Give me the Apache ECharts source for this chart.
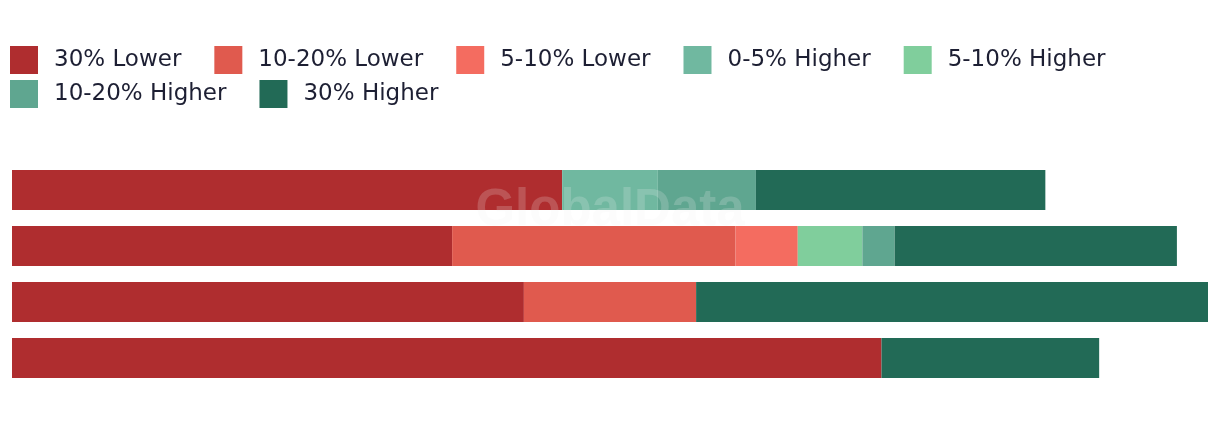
<!DOCTYPE html>
<html>
<head>
<meta charset="utf-8">
<script src="https://cdn.jsdelivr.net/npm/echarts@6/dist/echarts.min.js"></script>
<style>
html,body{margin:0;padding:0;background:#fff;}
#chart{width:1220px;height:422px;}
</style>
</head>
<body>
<div id="chart"></div>
<script>
var categories = ['Row 1', 'Row 2', 'Row 3', 'Row 4'];
var seriesNames = ['30% Lower', '10-20% Lower', '5-10% Lower', '0-5% Higher', '5-10% Higher', '10-20% Higher', '30% Higher'];
var lower30 = [46.0, 36.8, 42.8, 72.7];
var lower1020 = [0, 23.7, 14.4, 0];
var lower510 = [0, 5.2, 0, 0];
var higher05 = [8.0, 0, 0, 0];
var higher510 = [0, 5.4, 0, 0];
var higher1020 = [8.2, 2.7, 0, 0];
var higher30 = [24.2, 23.6, 42.8, 18.2];

var values = [lower30, lower1020, lower510, higher05, higher510, higher1020, higher30];
var colors = ['#AF2D2F', '#E05A4E', '#F46C60', '#70B8A0', '#80CE9C', '#5FA690', '#226A56'];

var chart = echarts.init(document.getElementById('chart'));
var legendBase = {
  orient: 'horizontal',
  left: 10,
  padding: 0,
  itemWidth: 28,
  itemHeight: 28,
  itemGap: 33,
  icon: 'rect',
  selectedMode: false,
  width: 1200,
  textStyle: {
    fontFamily: 'DejaVu Sans',
    fontSize: 23,
    color: '#1d1f33',
    padding: [0, 0, 0, 11]
  }
};
var option = {
  animation: false,
  color: colors,
  legend: [
    Object.assign({}, legendBase, { top: 46, data: seriesNames.slice(0, 5) }),
    Object.assign({}, legendBase, { top: 80, data: seriesNames.slice(5) })
  ],
  grid: { left: 12, right: 12, top: 162, bottom: 36, containLabel: false },
  xAxis: { type: 'value', min: 0, max: 100, show: false },
  yAxis: { type: 'category', data: categories, inverse: true, show: false },
  graphic: [{
    type: 'text',
    left: 'center',
    top: 185,
    z: 100,
    style: {
      text: 'GlobalData',
      fontFamily: 'Liberation Sans',
      fontWeight: 'bold',
      fontSize: 51,
      fill: 'rgba(240,240,240,0.2)'
    }
  }],
  series: seriesNames.map(function (name, i) {
    return {
      name: name,
      type: 'bar',
      stack: 'total',
      barWidth: 40,
      data: values[i],
      itemStyle: { color: colors[i] }
    };
  })
};
chart.setOption(option);
</script>
</body>
</html>
